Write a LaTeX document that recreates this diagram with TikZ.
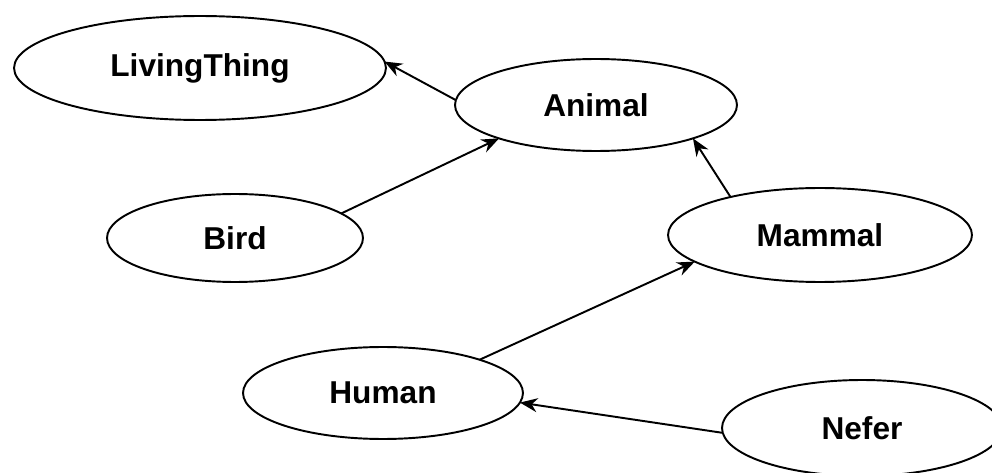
\documentclass[tikz,border=0pt]{standalone}
\usepackage{fontspec}
\setsansfont{Liberation Sans}
\usetikzlibrary{shapes.geometric,arrows.meta}

\tikzset{
    cls/.style={draw, ellipse, line width=1.1pt, fill=white, inner sep=0pt, outer sep=0pt,
        font=\sffamily\bfseries\fontsize{18}{20}\selectfont},
    isa/.style={-{Stealth[length=10pt,width=8pt]}, line width=1.1pt}
}

\begin{document}
\begin{tikzpicture}[x=0.02cm, y=-0.02cm]
    \useasboundingbox (0,0) rectangle (992,473);

    % Class nodes
    \node[cls, minimum width=7.44cm, minimum height=2.08cm] (living) at (200,68) {LivingThing};
    \node[cls, minimum width=5.64cm, minimum height=1.84cm] (animal) at (596,105) {Animal};
    \node[cls, minimum width=5.12cm, minimum height=1.76cm] (bird) at (235,238) {Bird};
    \node[cls, minimum width=6.08cm, minimum height=1.88cm] (mammal) at (820,235) {Mammal};
    \node[cls, minimum width=5.60cm, minimum height=1.84cm] (human) at (383,393) {Human};
    \node[cls, minimum width=5.60cm, minimum height=1.92cm] (nefer) at (862,428) {Nefer};

    % Is-a links
    \draw[isa] (animal.178) -- (living.2);
    \draw[isa] (bird.13) -- (animal.199);
    \draw[isa] (mammal.157) -- (animal.-19);
    \draw[isa] (human.19) -- (mammal.192);
    \draw[isa] (nefer.182) -- (human.-4);
\end{tikzpicture}
\end{document}
